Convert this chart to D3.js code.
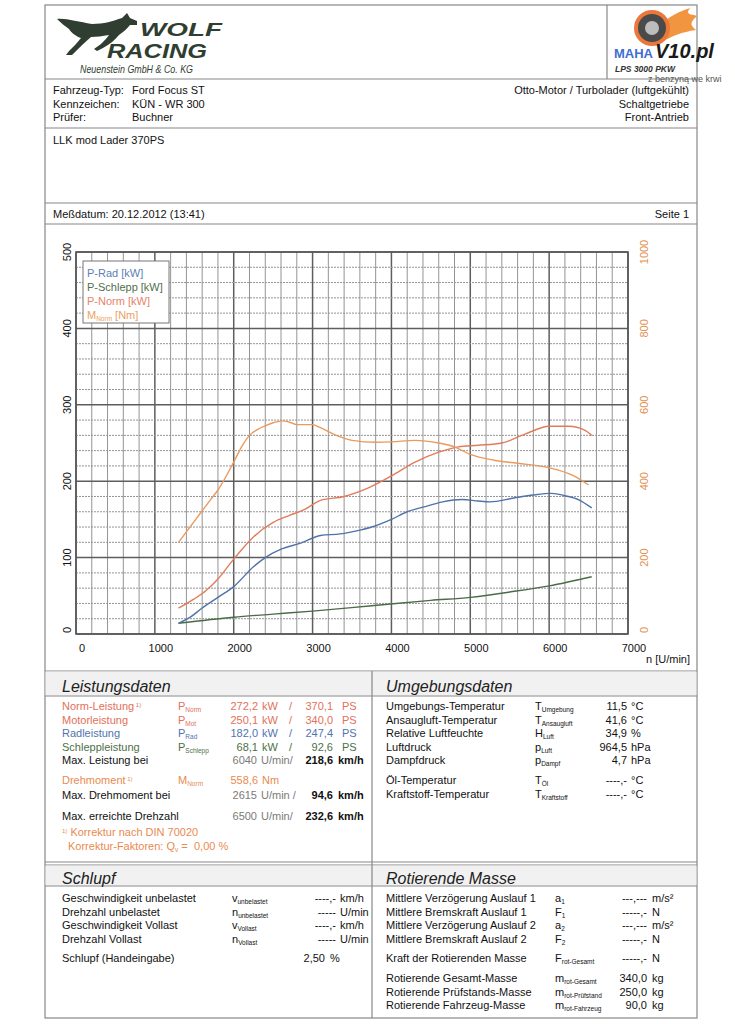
<!DOCTYPE html>
<html lang="de">
<head>
<meta charset="utf-8">
<title>Leistungsmessung Ford Focus ST</title>
<script src="https://cdn.jsdelivr.net/npm/d3@7/dist/d3.min.js"></script>
<style>
  body { margin: 0; background: #fff; }
  svg text { font-family: "Liberation Sans", Arial, sans-serif; }
</style>
</head>
<body>
<script>
// ---- Messkurven ----
var torqueRpm = [1300,1500,1700,1800,2000,2100,2200,2300,2400,2500,2615,2700,2800,3000,3100,3300,3500,3800,4000,4300,4600,4800,5000,5300,5600,6000,6300,6500];
var torqueNm  = [240,295,350,377,450,490,520,535,545,553,558,555,548,548,540,520,507,502,503,507,500,490,470,455,447,435,415,390];

var normRpm = [1300,1500,1650,1800,2000,2250,2500,2700,2900,3100,3400,3700,4000,4300,4600,4850,5100,5400,5700,6000,6250,6450,6540];
var normKw  = [34,46,57,72,98,127,146,155,163,175,180,191,207,225,238,245,247,250,262,272,272,267,260];

var radRpm = [1300,1450,1600,1800,2000,2250,2400,2600,2850,3100,3350,3600,3750,4000,4200,4400,4650,4900,5100,5250,5550,5800,6030,6200,6370,6540];
var radKw  = [14,22,34,48,62,88,100,111,119,129,131,136,140,150,160,166,173,176,174,173,178,182,184,181,176,165];

var schleppRpm = [1300,2000,2500,3000,3750,4500,5000,5500,6000,6540];
var schleppKw  = [14,22,26,30,37,44,48,55,63,75];

var xTicks = [0,1000,2000,3000,4000,5000,6000,7000];
var kwTicks = [0,100,200,300,400,500];
var nmTicks = [0,200,400,600,800,1000];

var legendItems = ["P-Rad [kW]","P-Schlepp [kW]","P-Norm [kW]","M"];

var colRad = "#4f72a8", colSchlepp = "#4b6b48", colNorm = "#e27b5c", colTorque = "#e99a5e";

var svg = d3.select("body").append("svg")
  .attr("width",735).attr("height",1024);

var ink = "#111";
var FS = 11;

// ---- Rahmen ----
var frame = svg.append("g").attr("stroke","#888").attr("stroke-width",1.2).attr("fill","none");
frame.append("rect").attr("x",45).attr("y",5).attr("width",652).attr("height",1013);
[79,128,203,224,671,862,865].forEach(function(y){
  frame.append("line").attr("x1",45).attr("x2",697).attr("y1",y).attr("y2",y);
});
frame.append("line").attr("x1",607).attr("x2",607).attr("y1",5).attr("y2",79);

// Kopf-Bänder der Tabellen
[[671,696],[865,886]].forEach(function(b){
  svg.append("rect").attr("x",45.6).attr("y",b[0]+0.6).attr("width",650.8).attr("height",b[1]-b[0]-1.2)
    .attr("fill","#f1f1f1");
  svg.append("line").attr("x1",45).attr("x2",697).attr("y1",b[1]).attr("y2",b[1]).attr("stroke","#888");
});
svg.append("line").attr("x1",372).attr("x2",372).attr("y1",671).attr("y2",1018).attr("stroke","#888").attr("stroke-width",1.2);

// ---- Logo Wolf Racing ----
var logo = svg.append("g");
logo.append("path")
  .attr("fill","#2f3e30")
  .attr("d","M57,19 C66,18 78,22 92,24 C104,24 113,21 122,18 L127,13 L130,18 L137,21 L137,25 L130,25 C127,29 123,32 119,35 C115,40 110,44 103,48 L97,51 L94,49 L101,44 C104,41 107,38 109,35 C102,36 97,37 91,37 C85,42 79,48 72,55 L66,55 L69,51 C74,46 78,42 81,38 C75,36 71,32 69,29 C65,26 61,23 57,19 Z");
logo.append("text").attr("x",140).attr("y",36).attr("font-size",17.5).attr("font-weight","bold")
  .attr("font-style","italic").attr("fill","#2f3e30")
  .attr("textLength",82).attr("lengthAdjust","spacingAndGlyphs").text("WOLF");
logo.append("text").attr("x",107).attr("y",58).attr("font-size",20).attr("font-weight","bold")
  .attr("font-style","italic").attr("fill","#2f3e30")
  .attr("textLength",100).attr("lengthAdjust","spacingAndGlyphs").text("RACING");
logo.append("text").attr("x",80).attr("y",73).attr("font-size",10.5)
  .attr("font-style","italic").attr("fill","#2f3e30")
  .attr("textLength",113).attr("lengthAdjust","spacingAndGlyphs").text("Neuenstein GmbH & Co. KG");

// ---- Logo rechts + Wasserzeichen ----
var rl = svg.append("g");
rl.append("text").attr("x",614).attr("y",58).attr("font-size",13).attr("font-weight","bold")
  .attr("fill","#3d6fd0").text("MAHA");
rl.append("path").attr("fill","#f08a2c").attr("opacity",0.9)
  .attr("d","M655,30 C665,20 672,14 690,8 C684,16 694,14 697,16 C688,24 692,26 696,30 C682,32 672,36 662,42 Z");
rl.append("circle").attr("cx",652).attr("cy",28).attr("r",18).attr("fill","#e9783a");
rl.append("circle").attr("cx",652).attr("cy",28).attr("r",14).attr("fill","#4a4a4a");
rl.append("circle").attr("cx",652).attr("cy",28).attr("r",7).attr("fill","#bdbdbd");
rl.append("text").attr("x",655).attr("y",58).attr("font-weight","bold").attr("font-size",20)
  .attr("font-style","italic").attr("fill","#1a1a1a").text("V10.pl");
rl.append("text").attr("x",615).attr("y",72).attr("font-size",8.5).attr("font-weight","bold")
  .attr("font-style","italic").attr("fill","#333").text("LPS 3000 PKW");
rl.append("text").attr("x",648).attr("y",82).attr("font-size",9).attr("fill","#555").text("z benzyną we krwi");

// ---- Fahrzeugdaten ----
var info = [["Fahrzeug-Typ:","Ford Focus ST","Otto-Motor / Turbolader (luftgekühlt)"],
            ["Kennzeichen:","KÜN - WR 300","Schaltgetriebe"],
            ["Prüfer:","Buchner","Front-Antrieb"]];
info.forEach(function(r,i){
  var y = 94 + i*13.5;
  svg.append("text").attr("x",53).attr("y",y).attr("font-size",FS).attr("fill",ink).text(r[0]);
  svg.append("text").attr("x",132).attr("y",y).attr("font-size",FS).attr("fill",ink).text(r[1]);
  svg.append("text").attr("x",689).attr("y",y).attr("font-size",FS).attr("fill",ink)
    .attr("text-anchor","end").text(r[2]);
});
svg.append("text").attr("x",53).attr("y",144).attr("font-size",FS).attr("fill",ink).text("LLK mod Lader 370PS");
svg.append("text").attr("x",53).attr("y",218).attr("font-size",FS).attr("fill",ink).text("Meßdatum: 20.12.2012 (13:41)");
svg.append("text").attr("x",689).attr("y",218).attr("font-size",FS).attr("fill",ink)
  .attr("text-anchor","end").text("Seite 1");

// ---- Diagramm ----
var x = d3.scaleLinear().domain([0,7000]).range([76,628]);
var yKw = d3.scaleLinear().domain([0,500]).range([634,252]);
var yNm = d3.scaleLinear().domain([0,1000]).range([634,252]);

var grid = svg.append("g");
d3.range(0,7001,200).forEach(function(v){
  var major = v % 1000 === 0;
  grid.append("line").attr("x1",x(v)).attr("x2",x(v)).attr("y1",yKw(500)).attr("y2",yKw(0))
    .attr("stroke",major ? "#5e5e5e" : "#949494").attr("stroke-width",major ? 1.5 : 1);
});
d3.range(0,501,20).forEach(function(v){
  var major = v % 100 === 0;
  grid.append("line").attr("x1",x(0)).attr("x2",x(7000)).attr("y1",yKw(v)).attr("y2",yKw(v))
    .attr("stroke",major ? "#5e5e5e" : "#949494").attr("stroke-width",major ? 1.5 : 1)
    .attr("stroke-dasharray",major ? null : "2,1");
});
grid.append("rect").attr("x",x(0)).attr("y",yKw(500)).attr("width",x(7000)-x(0)).attr("height",yKw(0)-yKw(500))
  .attr("fill","none").attr("stroke","#555").attr("stroke-width",1.5);

// Achsen-Beschriftung
xTicks.forEach(function(v){
  svg.append("text").attr("x",x(v)+6).attr("y",652).attr("font-size",FS).attr("fill",ink)
    .attr("text-anchor","middle").text(v);
});
svg.append("text").attr("x",690).attr("y",663).attr("font-size",FS).attr("fill",ink)
  .attr("text-anchor","end").text("n [U/min]");
kwTicks.forEach(function(v){
  var yy = yKw(v) - (v === 0 ? 4 : 0);
  svg.append("text").attr("transform","translate(71,"+yy+") rotate(-90)")
    .attr("font-size",FS).attr("fill",ink).attr("text-anchor","middle").text(v);
});
nmTicks.forEach(function(v){
  var yy = yNm(v) - (v === 0 ? 4 : 0);
  svg.append("text").attr("transform","translate(648,"+yy+") rotate(-90)")
    .attr("font-size",FS).attr("fill","#e2914f").attr("text-anchor","middle").text(v);
});

function curve(rpm, vals, scale, color){
  var pts = rpm.map(function(r,i){ return [r, vals[i]]; });
  svg.append("path").datum(pts)
    .attr("fill","none").attr("stroke",color).attr("stroke-width",1.4)
    .attr("d", d3.line().x(function(d){ return x(d[0]); }).y(function(d){ return scale(d[1]); })
      .curve(d3.curveMonotoneX));
}
curve(schleppRpm, schleppKw, yKw, colSchlepp);
curve(radRpm, radKw, yKw, colRad);
curve(normRpm, normKw, yKw, colNorm);
curve(torqueRpm, torqueNm, yNm, colTorque);

// Legende
var lg = svg.append("g");
lg.append("rect").attr("x",83).attr("y",261).attr("width",86).attr("height",62)
  .attr("fill","#fff").attr("stroke","#777").attr("stroke-width",1);
var legCols = ["#5b7fb5","#50704a","#e8826a","#eea060"];
legendItems.forEach(function(t,i){
  var tx = lg.append("text").attr("x",87).attr("y",277+i*14).attr("font-size",FS).attr("fill",legCols[i]);
  if (i === 3) {
    tx.append("tspan").text("M");
    tx.append("tspan").attr("font-size",6.5).attr("dy",2).text("Norm");
    tx.append("tspan").attr("dy",-2).text(" [Nm]");
  } else tx.text(t);
});

// ---- Tabellen ----
function title(tx, ty, t){
  svg.append("text").attr("x",tx).attr("y",ty).attr("font-size",16).attr("font-style","italic")
    .attr("fill","#222").text(t);
}
function sym(sx, sy, main, sub, color){
  var t = svg.append("text").attr("x",sx).attr("y",sy).attr("font-size",FS).attr("fill",color);
  t.append("tspan").text(main);
  if (sub) t.append("tspan").attr("font-size",6.5).attr("dy",2).text(sub);
}
function txt(tx, ty, s, color, anchor){
  return svg.append("text").attr("x",tx).attr("y",ty).attr("font-size",FS).attr("fill",color)
    .attr("text-anchor",anchor || "start").text(s);
}

var cRed = "#e2705a", cBlue = "#4f74b0", cGreen = "#4d7048", cOrange = "#e98a50", cGray = "#7a7a7a";

title(62,692,"Leistungsdaten");
var leistung = [
  ["Norm-Leistung","P","Norm","272,2","kW","370,1","PS",cRed,true],
  ["Motorleistung","P","Mot","250,1","kW","340,0","PS",cRed,false],
  ["Radleistung","P","Rad","182,0","kW","247,4","PS",cBlue,false],
  ["Schleppleistung","P","Schlepp","68,1","kW","92,6","PS",cGreen,false]
];
leistung.forEach(function(r,i){
  var y = 710 + i*13.5;
  var l = txt(62,y,r[0],r[7]);
  if (r[8]) l.append("tspan").attr("font-size",6).attr("dy",-3).text(" 1)");
  sym(178,y,r[1],r[2],r[7]);
  txt(258,y,r[3],r[7],"end");
  txt(262,y,r[4],r[7]);
  txt(289,y,"/",r[7]);
  txt(333,y,r[5],r[7],"end");
  txt(342,y,r[6],r[7]);
});
var rpmRows = [["Max. Leistung bei",764,"6040","U/min/","218,6"],
               ["Max. Drehmoment bei",799,"2615","U/min /","94,6"],
               ["Max. erreichte Drehzahl",820,"6500","U/min/","232,6"]];
rpmRows.forEach(function(r){
  txt(62,r[1],r[0],ink);
  txt(257,r[1],r[2],cGray,"end");
  txt(261,r[1],r[3],cGray);
  svg.append("text").attr("x",333).attr("y",r[1]).attr("font-size",FS).attr("font-weight","bold")
    .attr("fill",ink).attr("text-anchor","end").text(r[4]);
  svg.append("text").attr("x",338).attr("y",r[1]).attr("font-size",FS).attr("font-weight","bold")
    .attr("fill",ink).text("km/h");
});
var dm = txt(62,784,"Drehmoment",cOrange);
dm.append("tspan").attr("font-size",6).attr("dy",-3).text(" 1)");
sym(178,784,"M","Norm",cOrange);
txt(258,784,"558,6",cOrange,"end");
txt(262,784,"Nm",cOrange);
var k1 = svg.append("text").attr("x",62).attr("y",836).attr("font-size",FS).attr("fill",cOrange);
k1.append("tspan").attr("font-size",6).attr("dy",-3).text("1)");
k1.append("tspan").attr("dy",3).text(" Korrektur nach DIN 70020");
var k2 = svg.append("text").attr("x",68).attr("y",850).attr("font-size",FS).attr("fill",cOrange);
k2.append("tspan").text("Korrektur-Faktoren: Q");
k2.append("tspan").attr("font-size",6.5).attr("dy",2).text("v");
k2.append("tspan").attr("dy",-2).text(" =");
k2.append("tspan").attr("x",194).text("0,00 %");

title(386,692,"Umgebungsdaten");
var umgebung = [
  ["Umgebungs-Temperatur","T","Umgebung","11,5","°C"],
  ["Ansaugluft-Temperatur","T","Ansaugluft","41,6","°C"],
  ["Relative Luftfeuchte","H","Luft","34,9","%"],
  ["Luftdruck","p","Luft","964,5","hPa"],
  ["Dampfdruck","p","Dampf","4,7","hPa"],
  ["Öl-Temperatur","T","Öl","----,-","°C"],
  ["Kraftstoff-Temperatur","T","Kraftstoff","----,-","°C"]
];
umgebung.forEach(function(r,i){
  var y = 710 + i*13.6 + (i >= 5 ? 6 : 0);
  txt(386,y,r[0],ink);
  sym(535,y,r[1],r[2],ink);
  txt(627,y,r[3],ink,"end");
  txt(631,y,r[4],ink);
});

title(62,884,"Schlupf");
var schlupf = [
  ["Geschwindigkeit unbelastet","v","unbelastet","----,-","km/h"],
  ["Drehzahl unbelastet","n","unbelastet","-----","U/min"],
  ["Geschwindigkeit Vollast","v","Vollast","----,-","km/h"],
  ["Drehzahl Vollast","n","Vollast","-----","U/min"]
];
schlupf.forEach(function(r,i){
  var y = 902 + i*13.6;
  txt(62,y,r[0],ink);
  sym(232,y,r[1],r[2],ink);
  txt(336,y,r[3],ink,"end");
  txt(340,y,r[4],ink);
});
txt(62,962,"Schlupf (Handeingabe)",ink);
txt(325,962,"2,50",ink,"end");
txt(330,962,"%",ink);

title(386,884,"Rotierende Masse");
var masse = [
  ["Mittlere Verzögerung Auslauf 1","a","1","---,---","m/s²",0],
  ["Mittlere Bremskraft Auslauf 1","F","1","-----,-","N",0],
  ["Mittlere Verzögerung Auslauf 2","a","2","---,---","m/s²",0],
  ["Mittlere Bremskraft Auslauf 2","F","2","-----,-","N",0],
  ["Kraft der Rotierenden Masse","F","rot-Gesamt","-----,-","N",6],
  ["Rotierende Gesamt-Masse","m","rot-Gesamt","340,0","kg",12],
  ["Rotierende Prüfstands-Masse","m","rot-Prüfstand","250,0","kg",12],
  ["Rotierende Fahrzeug-Masse","m","rot-Fahrzeug","90,0","kg",12]
];
masse.forEach(function(r,i){
  var y = 902 + i*13.6 + r[5];
  txt(386,y,r[0],ink);
  sym(555,y,r[1],r[2],ink);
  txt(647,y,r[3],ink,"end");
  txt(652,y,r[4],ink);
});
</script>
</body>
</html>
